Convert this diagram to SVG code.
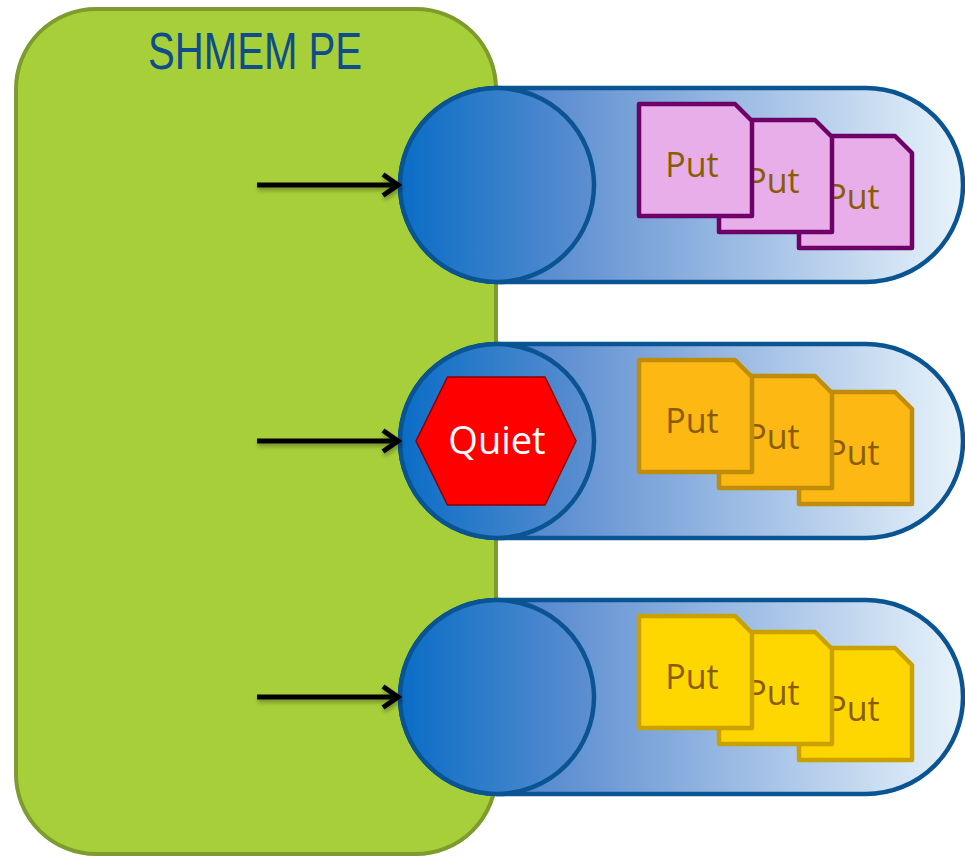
<svg xmlns="http://www.w3.org/2000/svg" xmlns:xlink="http://www.w3.org/1999/xlink" width="965" height="857" viewBox="0 0 965 857">
<style>
.pe{fill:#A7CF3A;stroke:#7E9B2E;stroke-width:4}
.title{font-family:"Liberation Sans",Arial,sans-serif;font-size:51px;fill:#0E4C8C;text-anchor:middle}
.pipe{fill:url(#pipeGrad);stroke:#0A5494;stroke-width:4.5}
.port{fill:url(#portGrad);stroke:#0A5494;stroke-width:4.5}
.doc{stroke-width:4.5;stroke-linejoin:round}
.pink{fill:#E7AEEA;stroke:#6E0067}
.orange{fill:#FDB813;stroke:#C08C0C}
.yellow{fill:#FFD700;stroke:#C9A100}
.put{font-family:"Open Sans","Noto Sans",sans-serif;font-size:34px;fill:#8A5C00;text-anchor:middle}
.quiet{fill:#FF0000;stroke:#8B0000;stroke-width:1.5}
.qtext{font-family:"Open Sans","Noto Sans",sans-serif;font-size:38px;fill:#FFFFFF;text-anchor:middle}
.arrow{stroke:#000;stroke-width:5;fill:none;marker-end:url(#chev);filter:url(#shadow)}
</style>
<defs>
<linearGradient id="pipeGrad" gradientUnits="userSpaceOnUse" x1="497" y1="0" x2="963" y2="0">
<stop offset="0" stop-color="#4A80CB"/>
<stop offset="1" stop-color="#E8F3FA"/>
</linearGradient>
<linearGradient id="portGrad" x1="0" y1="0" x2="1" y2="0">
<stop offset="0" stop-color="#0A6DC6"/>
<stop offset="1" stop-color="#5E8FD0"/>
</linearGradient>
<marker id="chev" markerUnits="userSpaceOnUse" markerWidth="24" markerHeight="30" refX="20" refY="12" orient="auto" viewBox="0 0 24 24">
<path d="M5,1.5 L20,12 L5,22.5" fill="none" stroke="#000" stroke-width="5" stroke-linejoin="miter"/>
</marker>
<filter id="shadow" filterUnits="userSpaceOnUse" x="0" y="0" width="965" height="857">
<feDropShadow dx="1" dy="3" stdDeviation="2" flood-color="#000" flood-opacity="0.3"/>
</filter>
<path id="doc" d="M0,0 H96 L113,17 V112 H0 Z"/>
</defs>

<g id="shmem-pe">
<rect class="pe" x="16" y="9" width="480" height="845" rx="80" ry="80"/>
<text class="title" x="255" y="69" textLength="214" lengthAdjust="spacingAndGlyphs">SHMEM PE</text>
</g>

<g id="pipe1">
<rect class="pipe" x="400" y="88" width="563" height="194" rx="97" ry="97"/>
<circle class="port" cx="497" cy="185" r="97"/>
<use xlink:href="#doc" class="doc pink" x="799" y="136"/>
<text class="put" x="853" y="209">Put</text>
<use xlink:href="#doc" class="doc pink" x="719" y="120"/>
<text class="put" x="773" y="193">Put</text>
<use xlink:href="#doc" class="doc pink" x="639" y="104"/>
<text class="put" x="692" y="177">Put</text>
</g>

<g id="pipe2">
<rect class="pipe" x="400" y="344" width="563" height="194" rx="97" ry="97"/>
<circle class="port" cx="497" cy="441" r="97"/>
<use xlink:href="#doc" class="doc orange" x="799" y="392"/>
<text class="put" x="853" y="465">Put</text>
<use xlink:href="#doc" class="doc orange" x="719" y="376"/>
<text class="put" x="773" y="449">Put</text>
<use xlink:href="#doc" class="doc orange" x="639" y="360"/>
<text class="put" x="692" y="433">Put</text>
</g>

<g id="quiet">
<polygon class="quiet" points="416,441 447.5,377 545,377 576,441 545,505 447.5,505"/>
<text class="qtext" x="497" y="454">Quiet</text>
</g>

<g id="pipe3">
<rect class="pipe" x="400" y="600" width="563" height="194" rx="97" ry="97"/>
<circle class="port" cx="497" cy="697" r="97"/>
<use xlink:href="#doc" class="doc yellow" x="799" y="648"/>
<text class="put" x="853" y="721">Put</text>
<use xlink:href="#doc" class="doc yellow" x="719" y="632"/>
<text class="put" x="773" y="705">Put</text>
<use xlink:href="#doc" class="doc yellow" x="639" y="616"/>
<text class="put" x="692" y="689">Put</text>
</g>

<g id="connectors">
<path class="arrow" d="M257,185 H398"/>
<path class="arrow" d="M257,441 H398"/>
<path class="arrow" d="M257,697 H398"/>
</g>
</svg>
